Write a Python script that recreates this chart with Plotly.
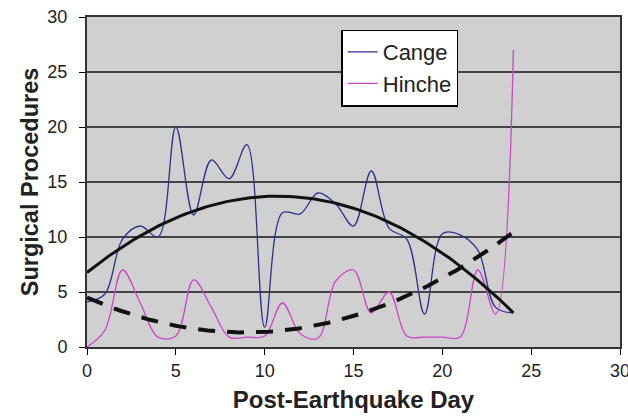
import numpy as np
import plotly.graph_objects as go

days = list(range(25))
cange = [4.1, 4.8, 9.8, 11.0, 10.0, 20.0, 12.0, 17.0, 15.3, 18.4, 1.8, 12.2, 12.1,
         14.0, 13.0, 11.0, 16.0, 10.8, 9.8, 3.0, 10.3, 10.2, 8.8, 3.6, 3.1]
hinche = [0.0, 1.5, 7.0, 4.0, 0.9, 1.0, 6.1, 3.6, 0.9, 0.9, 1.0, 4.0, 1.2,
          0.8, 6.0, 7.0, 3.1, 5.0, 1.0, 0.9, 0.9, 0.9, 7.0, 3.0, 27.0]
x_ticks = [0, 5, 10, 15, 20, 25, 30]
y_ticks = [0, 5, 10, 15, 20, 25, 30]

# order-2 polynomial trendlines fitted to the data (as the spreadsheet did)
xd = np.array(days, dtype=float)
tx = np.linspace(0, 24, 121)
c_trend = np.polyval(np.polyfit(xd, cange, 2), tx)
h_trend = np.polyval(np.polyfit(xd, hinche, 2), tx)

fig = go.Figure()
fig.add_trace(go.Scatter(x=days, y=cange, mode="lines", name="Cange",
                         line=dict(color="#30308f", width=1.3, shape="spline", smoothing=1.0)))
fig.add_trace(go.Scatter(x=days, y=hinche, mode="lines", name="Hinche",
                         line=dict(color="#cc44cc", width=1.3, shape="spline", smoothing=1.0)))
fig.add_trace(go.Scatter(x=tx, y=c_trend, mode="lines", showlegend=False,
                         line=dict(color="#111111", width=3)))
fig.add_trace(go.Scatter(x=tx, y=h_trend, mode="lines", showlegend=False,
                         line=dict(color="#111111", width=4, dash="17px,12px")))

font = "Liberation Sans, Arial, sans-serif"
fig.update_layout(
    width=628, height=417,
    margin=dict(l=87, r=8, t=17, b=70),
    paper_bgcolor="white", plot_bgcolor="#d0d0d0",
    font=dict(family=font, size=18, color="#222222"),
    showlegend=True,
    legend=dict(x=0.477, y=0.962, xanchor="left", yanchor="top",
                bgcolor="white", bordercolor="black", borderwidth=1.5,
                font=dict(size=22, family=font, color="#222222"),
                itemwidth=30, tracegroupgap=0),
)
fig.update_xaxes(range=[0, 30], tickvals=x_ticks, ticks="outside", ticklen=6,
                 tickcolor="black", showgrid=False, zeroline=False, automargin=False,
                 showline=True, linecolor="#333333", linewidth=2, mirror=True,
                 ticklabeloverflow="allow",
                 title=dict(text="<b>Post-Earthquake Day</b>", font=dict(size=24, family=font),
                            standoff=12),
                 tickfont=dict(size=18))
fig.update_yaxes(range=[0, 30], tickvals=y_ticks, ticks="outside", ticklen=6,
                 tickcolor="black", showgrid=True, gridcolor="#444444", gridwidth=2,
                 zeroline=False, automargin=False, ticklabeloverflow="allow",
                 ticklabelstandoff=8,
                 showline=True, linecolor="#333333", linewidth=2, mirror=True,
                 title=dict(text="<b>Surgical Procedures</b>", font=dict(size=23.5, family=font),
                            standoff=2),
                 tickfont=dict(size=18))
fig.write_html("out.html",
               config={"displayModeBar": False},
               post_script="document.body.style.margin='0px';"
                           "document.body.style.overflow='hidden';")
